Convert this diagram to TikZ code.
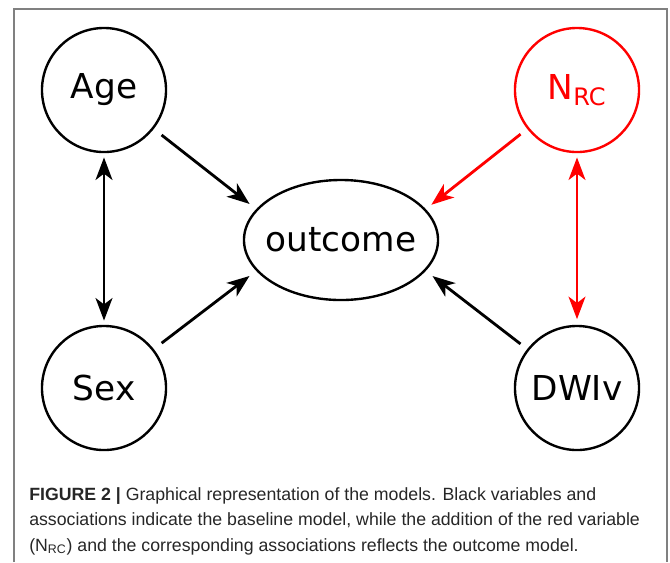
\documentclass[tikz,border=0pt]{standalone}
\usepackage{fontspec}
\setmainfont{Liberation Sans}
\newfontfamily\varfont{DejaVu Sans}
\usetikzlibrary{arrows.meta}
\usetikzlibrary{shapes.geometric}

\begin{document}
\begin{tikzpicture}[x=0.025cm, y=-0.025cm, varnode/.style={circle, draw, line width=1.7pt, minimum size=3.1cm, inner sep=0pt, font=\varfont\fontsize{24.4pt}{29pt}\selectfont}, target/.style={ellipse, draw, line width=1.7pt, minimum width=4.85cm, minimum height=3cm, inner sep=0pt, font=\varfont\fontsize{24.4pt}{29pt}\selectfont}, arrow/.style={line width=2pt, ->, >={Stealth[length=16pt, width=12pt, inset=4.5pt]}}, twoway/.style={line width=2pt, <->, >={Stealth[length=16pt, width=12pt, inset=4.5pt]}}, frame/.style={draw=gray, line width=1pt}]
\useasboundingbox (0,0) rectangle (670,562);
\draw [frame] (14,562) -- (14,9) -- (667,9) -- (667,562);
\node [varnode] (age) at (104,90) {Age};
\node [varnode] (sex) at (104,388) {Sex};
\node [varnode, red] (nrc) at (577,90) {N\textsubscript{RC}};
\node [varnode] (dwi) at (577,388) {DWIv};
\node [target] (outcome) at (341,240) {\makebox[0pt]{outcome}};
\draw [arrow, shorten <=7pt, shorten >=6pt] (age.-38) -- (outcome.160);
\draw [arrow, shorten <=7pt, shorten >=6pt] (sex.38) -- (outcome.200);
\draw [arrow, red, shorten <=6pt, shorten >=5pt] (nrc.218) -- (outcome.20);
\draw [arrow, shorten <=6pt, shorten >=6pt] (dwi.142) -- (outcome.-20);
\draw [twoway, shorten <=3pt, shorten >=3pt] (age) -- (sex);
\draw [twoway, red, shorten <=3pt, shorten >=4pt] (nrc) -- (dwi);
\node [anchor=base west, align=left, text=black!85, inner sep=0pt, font=\fontsize{12.6pt}{18.1pt}\selectfont] (caption) at (29,551) {\textbf{FIGURE 2 |} Graphical representation of the models. Black variables and\\associations indicate the baseline model, while the addition of the red variable\\(N\textsubscript{RC}) and the corresponding associations reflects the outcome model.};
\end{tikzpicture}
\end{document}
